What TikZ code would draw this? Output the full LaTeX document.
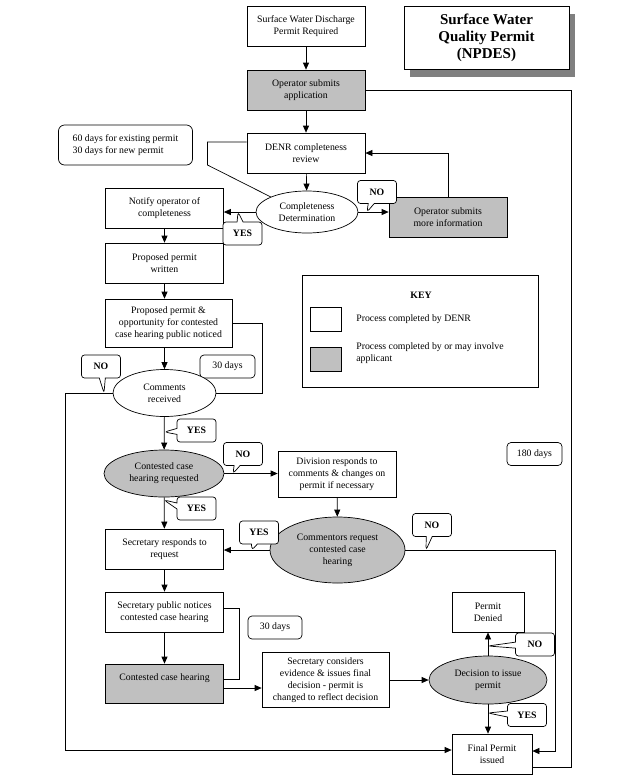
\documentclass[tikz,border=0pt]{standalone}
\usepackage{fontspec}
\setmainfont{Liberation Serif}
\usetikzlibrary{shapes.geometric, shapes.callouts, arrows.meta, shadows}
\definecolor{applgray}{RGB}{192, 192, 192}

\begin{document}
\begin{tikzpicture}[
  x=1pt, y=-1pt, line width=0.7pt,
  every node/.style={font=\fontsize{9.8}{12}\selectfont},
  procbox/.style={draw, fill=white, minimum width=118pt, minimum height=40pt, align=center, inner sep=2pt},
  applbox/.style={procbox, fill=applgray},
  decision/.style={draw, ellipse, fill=white, align=center, inner sep=1pt},
  daysbox/.style={draw, fill=white, rounded corners=4pt, minimum width=55pt, minimum height=23pt, inner sep=2pt},
  ynbubble/.style={rectangle callout, draw, fill=white, rounded corners=3pt, minimum width=39pt, minimum height=23pt, inner sep=2pt, callout pointer width=6pt, font=\fontsize{9.8}{11}\selectfont\bfseries},
  arr/.style={-{Triangle[length=7pt, width=6pt]}, draw=black},
  link/.style={draw=black}
]
  \fill[white] (0,0) rectangle (640,780);
  \useasboundingbox (0,0) rectangle (640,780);

  % Title and key
  \node[draw, fill=white, minimum width=165pt, minimum height=63pt, align=center, font=\fontsize{15}{17}\selectfont\bfseries, drop shadow={shadow xshift=6pt, shadow yshift=-7pt, fill=black!50, opacity=1}] (title) at (486.5,38) {Surface Water\\Quality Permit\\(NPDES)};
  \node[draw, minimum width=236pt, minimum height=112pt] (key) at (420,331) {};
  \node[font=\fontsize{9.8}{11}\selectfont\bfseries] (keytitle) at (421,295) {KEY};
  \node[draw, fill=white, minimum width=31pt, minimum height=24pt] (keydenr) at (325.5,319) {};
  \node[draw, fill=applgray, minimum width=31pt, minimum height=24pt] (keyappl) at (325.5,359) {};
  \node[anchor=west, inner sep=0pt] (keydenrtext) at (356,319) {Process completed by DENR};
  \node[anchor=west, align=left, inner sep=0pt] (keyappltext) at (356,353.5) {Process completed by or may involve\\applicant};

  % Application and completeness review
  \node[procbox] (required) at (306,26) {Surface Water Discharge\\Permit Required};
  \node[applbox] (apply) at (306,90) {Operator submits\\application};
  \node[draw, rounded corners=6pt, minimum width=134pt, minimum height=40pt, align=left, inner sep=4pt] (timing) at (125.5,145) {60 days for existing permit\\30 days for new permit};
  \node[procbox] (review) at (306,153) {DENR completeness\\review};
  \node[decision, minimum width=102pt, minimum height=42pt] (complete) at (307,212) {Completeness\\Determination};
  \node[procbox] (notify) at (164.5,208) {Notify operator of\\completeness};
  \node[applbox] (moreinfo) at (448,217) {Operator submits\\more information};

  % Public notice and comments
  \node[procbox] (written) at (164.5,263) {Proposed permit\\written};
  \node[procbox, minimum width=127pt, minimum height=48pt] (notice) at (168.5,323) {Proposed permit \&\\opportunity for contested\\case hearing public noticed};
  \node[daysbox] (days30a) at (227.5,366.5) {30 days};
  \node[decision, minimum width=103pt, minimum height=47pt] (comments) at (164.5,393) {Comments\\received};
  \node[decision, fill=applgray, minimum width=120pt, minimum height=47pt] (requested) at (164,473.5) {Contested case\\hearing requested};
  \node[procbox, minimum height=46pt] (division) at (337,474) {Division responds to\\comments \& changes on\\permit if necessary};
  \node[daysbox] (days180) at (534.5,454) {180 days};
  \node[decision, fill=applgray, minimum width=135pt, minimum height=66pt] (commentors) at (337.5,550) {Commentors request\\contested case\\hearing};

  % Contested case hearing and decision
  \node[procbox] (responds) at (164.5,549) {Secretary responds to\\request};
  \node[procbox] (pubnotice) at (164.5,612) {Secretary public notices\\contested case hearing};
  \node[daysbox, minimum width=54pt] (days30b) at (275,627.5) {30 days};
  \node[applbox, minimum height=39pt] (hearing) at (164.5,683.5) {Contested case hearing\\ \mbox{}};
  \node[procbox, minimum width=127pt, minimum height=55pt] (considers) at (325.5,680) {Secretary considers\\evidence \& issues final\\decision - permit is\\changed to reflect decision};
  \node[decision, fill=applgray, minimum width=118pt, minimum height=48pt] (decide) at (488,680) {Decision to issue\\permit};
  \node[procbox, minimum width=72pt] (denied) at (488,612) {Permit\\Denied};
  \node[procbox, minimum width=80pt] (final) at (492,754) {Final Permit\\issued};

  \coordinate (reviewbend) at (207.5,142);
  \coordinate (reviewfoot) at (207.5,165);
  \coordinate (noticebend) at (262,393);
  \coordinate (pubbend) at (239,679);
  \coordinate (leftfoot) at (65,750);
  \coordinate (rightfoot) at (555,751);
  \coordinate (outerfoot) at (571,767);

  % Connectors
  \draw[arr] (required) -- (apply);
  \draw[arr] (apply) -- (review);
  \draw[arr] (review) -- (complete);
  \draw[arr] (complete.west) -- (complete.west -| notify.east);
  \draw[arr] (complete.east) -- (complete.east -| moreinfo.west);
  \draw[arr] (moreinfo.north) |- (review.east);
  \draw[arr] (notify) -- (written);
  \draw[arr] (written.south) -- (written.south |- notice.north);
  \draw[arr] (comments.north |- notice.south) -- (comments.north);
  \draw[arr] (comments) -- (requested);
  \draw[arr] (requested.east) -- (requested.east -| division.west);
  \draw[arr] (requested) -- (responds);
  \draw[arr] (division) -- (commentors);
  \draw[arr] (commentors.west) -- (commentors.west -| responds.east);
  \draw[arr] (responds) -- (pubnotice);
  \draw[arr] (pubnotice) -- (hearing);
  \draw[arr] ([yshift=-4.5pt]hearing.east) -- ([yshift=-4.5pt]hearing.east -| considers.west);
  \draw[arr] (considers.east) -- (decide.west);
  \draw[arr] (decide.north) -- (decide.north |- denied.south);
  \draw[arr] (decide.south) -- (decide.south |- final.north);
  \draw[arr] (comments.west) -| (leftfoot) -- (leftfoot -| final.west);
  \draw[arr] (commentors.east) -| (rightfoot) -- (rightfoot -| final.east);

  % Time spans
  \draw[link] (review.west |- reviewbend) -- (reviewbend) -- (reviewfoot) -- (complete.north west);
  \draw[link] (notice.east) -| (noticebend) -- (comments.east);
  \draw[link] ([yshift=4pt]pubnotice.east) -| (pubbend) -- (pubbend -| hearing.east);
  \draw[link] (apply.east) -| (outerfoot) -- (outerfoot -| final.east);

  % Yes / no bubbles
  \node[ynbubble, callout absolute pointer={(367,212)}] (nocomplete) at (377,192) {NO};
  \node[ynbubble, callout absolute pointer={(238,212)}] (yescomplete) at (242.5,233.5) {YES};
  \node[ynbubble, callout absolute pointer={(104,393)}] (nocomments) at (101,366.5) {NO};
  \node[ynbubble, callout absolute pointer={(164.5,432)}] (yescomments) at (196.5,430.5) {YES};
  \node[ynbubble, callout absolute pointer={(233,473.5)}] (norequested) at (243,454) {NO};
  \node[ynbubble, callout absolute pointer={(164,500)}] (yesrequested) at (196.5,508.5) {YES};
  \node[ynbubble, callout absolute pointer={(426,550)}] (nocommentors) at (432,525) {NO};
  \node[ynbubble, callout absolute pointer={(252,550)}] (yescommentors) at (259,532.5) {YES};
  \node[ynbubble, callout absolute pointer={(488,646)}] (nodecide) at (535,644.5) {NO};
  \node[ynbubble, callout absolute pointer={(488,713)}] (yesdecide) at (527,715) {YES};
\end{tikzpicture}
\end{document}
